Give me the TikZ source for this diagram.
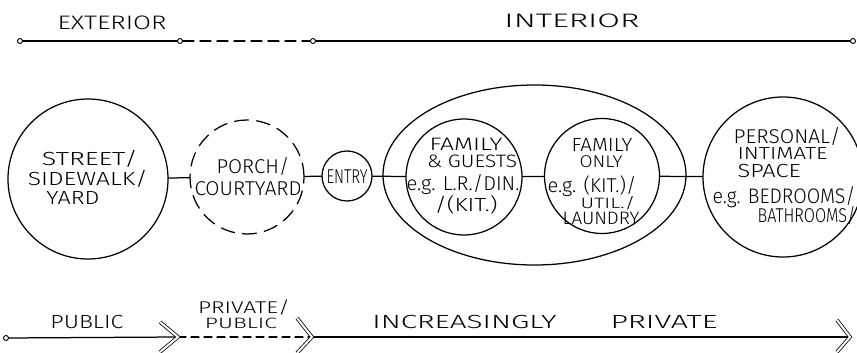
\documentclass[tikz,border=0pt]{standalone}
\usepackage{fontspec}
\usepackage{graphicx}
\usetikzlibrary{shapes.geometric}
\IfFontExistsTF{Fira Sans Light}{\newfontfamily\hand{Fira Sans Light}}{\newfontfamily\hand{Fira Sans}}
% text scaled horizontally to a given width (pt), font size (pt)
\newcommand\hwt[3]{\resizebox{#1pt}{\height}{\hand\fontsize{#2pt}{#2pt}\selectfont #3}}
\begin{document}
\begin{tikzpicture}[x=1pt,y=-1pt,line width=1.25pt,line cap=round,
  txt/.style={inner sep=0pt,anchor=base},
  txtl/.style={inner sep=0pt,anchor=base west},
  room/.style={circle,draw,inner sep=0pt},
  dot/.style={circle,draw,inner sep=0pt,minimum size=5pt,line width=0.9pt},
  chev/.style={double,double distance=2pt,line width=0.8pt,line join=miter,line cap=butt},
  dashline/.style={dash pattern=on 11pt off 6pt},
  dashshort/.style={dash pattern=on 8pt off 5pt}]
\useasboundingbox (0,0) rectangle (857,353);
\fill[white] (0,0) rectangle (857,353);

% ---- top bar ----
\node[dot] (d1) at (20,41) {};
\node[dot] (d2) at (180,41) {};
\node[dot] (d3) at (313,41) {};
\node[dot] (d4) at (853,41) {};
\draw (d1) -- (d2);
\draw[dashline] (d2) -- (d3);
\draw (d3) -- (d4);
\node[txt] (ext) at (112,30) {\hwt{109}{19.5}{EXTERIOR}};
\node[txt] (int) at (572,28) {\hwt{135}{19.5}{INTERIOR}};

% ---- rooms ----
\node[room,minimum size=160pt] (street) at (88,179) {};
\node[room,minimum size=114pt,dash pattern=on 14pt off 8pt] (porch) at (247,177) {};
\node[room,minimum size=50pt] (entry) at (347,176) {};
\node[ellipse,draw,inner sep=0pt,minimum width=303pt,minimum height=180pt] (zone) at (534.5,175) {};
\node[room,minimum size=116pt] (fg) at (464,177) {};
\node[room,minimum size=115pt] (fo) at (602,176) {};
\node[room,minimum size=160pt] (personal) at (783,177) {};

\draw (street) -- (porch);
\draw (porch) -- (entry);
\draw (entry) -- (fg);
\draw (fg) -- (fo);
\draw (fo) -- (personal);

% ---- room texts ----
\node[txt] (t1) at (90,165) {\hwt{96}{19}{STREET/}};
\node[txt] (t2) at (88,185) {\hwt{120}{19}{SIDEWALK/}};
\node[txt] (t3) at (73,204) {\hwt{53}{19}{YARD}};

\node[txt] (p1) at (253,173) {\hwt{73}{20}{PORCH/}};
\node[txt] (p2) at (248,195) {\hwt{107}{20}{COURTYARD}};

\node[txt] (e1) at (347,183) {\hwt{41}{20}{ENTRY}};

\node[txt] (g1) at (466,150) {\hwt{73}{18}{FAMILY}};
\node[txt] (g2) at (472,167) {\hwt{90}{18}{\& GUESTS}};
\node[txt] (g3) at (463,190) {\hwt{113}{20}{e.g. L.R./DIN.}};
\node[txt] (g4) at (466,211) {\hwt{63}{19}{/(KIT.)}};

\node[txt] (f1) at (602,151) {\hwt{61}{19}{FAMILY}};
\node[txt] (f2) at (601,167) {\hwt{43}{17}{ONLY}};
\node[txt] (f3) at (592,192) {\hwt{89}{20}{e.g. (KIT.)/}};
\node[txt] (f4) at (608,208) {\hwt{55}{15}{UTIL./}};
\node[txt] (f5) at (601,224) {\hwt{77}{18}{LAUNDRY}};

\node[txtl] (s1) at (733,143) {\hwt{107}{20}{PERSONAL/}};
\node[txtl] (s2) at (737,160) {\hwt{90}{17.5}{INTIMATE}};
\node[txtl] (s3) at (737,177) {\hwt{63}{19}{SPACE}};
\node[txtl] (s4) at (712,203) {\hwt{143}{21}{e.g. BEDROOMS/}};
\node[txtl] (s5) at (757,222) {\hwt{98}{20}{BATHROOMS/}};

% ---- bottom bar ----
\node[dot] (b0) at (6,338) {};
\coordinate (c1) at (178,337);
\coordinate (c2) at (312,337);
\coordinate (c3) at (850,337);
\draw (b0) -- (c1);
\draw[dashshort] (c1) -- (c2);
\draw (c2) -- (c3);
\draw[chev] (c1) ++(-18,-15) -- (c1) -- ++(-18,15);
\draw[chev] (c2) ++(-15,-19) -- (c2) -- ++(-15,16);
\draw[chev] (c3) ++(-13,-17) -- (c3) -- ++(-13,15);

\node[txt] (l1) at (87,328) {\hwt{73}{19}{PUBLIC}};
\node[txt] (l2) at (244,313) {\hwt{92}{17}{PRIVATE/}};
\node[txt] (l3) at (241,328) {\hwt{72}{15}{PUBLIC}};
\node[txt] (l4) at (545,328) {\hwt{184}{19}{INCREASINGLY}\hspace{54pt}\hwt{107}{19}{PRIVATE}};
\end{tikzpicture}
\end{document}
